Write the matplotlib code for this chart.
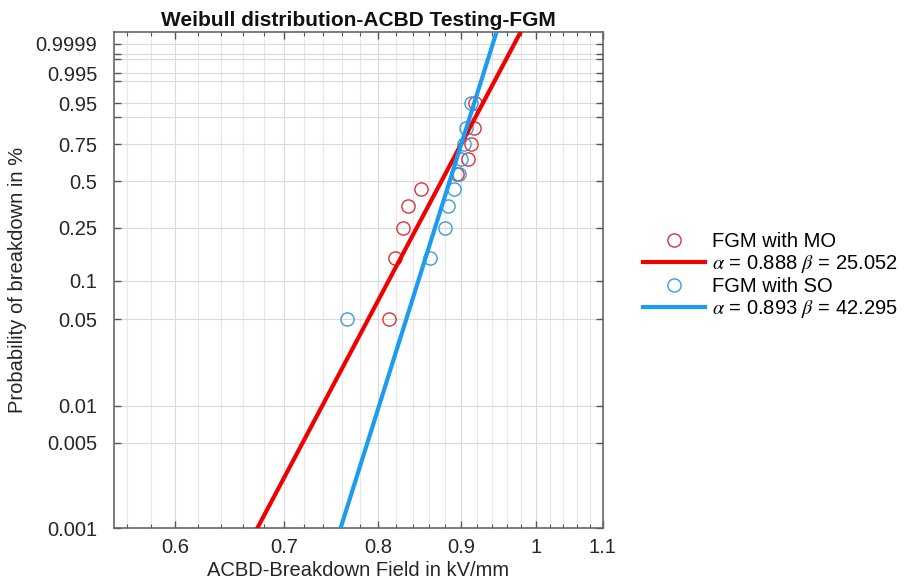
import numpy as np
import matplotlib
matplotlib.use("Agg")
import matplotlib.pyplot as plt
from matplotlib.ticker import NullFormatter
from matplotlib.lines import Line2D

plt.rcParams["font.family"] = ["Liberation Sans", "DejaVu Sans"]
plt.rcParams["mathtext.fontset"] = "stix"

# ---- data ----
prob = [0.05, 0.15, 0.25, 0.35, 0.45, 0.55, 0.65, 0.75, 0.85, 0.95]
mo_field = [0.812, 0.819, 0.829, 0.834, 0.850, 0.895, 0.908, 0.912, 0.916, 0.918]
so_field = [0.765, 0.861, 0.879, 0.883, 0.891, 0.897, 0.900, 0.903, 0.906, 0.912]

mo_alpha, mo_beta = 0.888, 25.052
so_alpha, so_beta = 0.893, 42.295

x_major = [0.6, 0.7, 0.8, 0.9, 1.0, 1.1]
x_major_labels = ["0.6", "0.7", "0.8", "0.9", "1", "1.1"]
x_minor = [0.56, 0.58, 0.62, 0.64, 0.66, 0.68, 0.72, 0.74, 0.76, 0.78,
           0.82, 0.84, 0.86, 0.88, 0.92, 0.94, 0.96, 0.98, 1.02, 1.04, 1.06, 1.08]
y_ticks = [0.001, 0.005, 0.01, 0.05, 0.1, 0.25, 0.5, 0.75, 0.9, 0.95,
           0.99, 0.995, 0.999, 0.9995, 0.9999]
y_labels = ["0.001", "0.005", "0.01", "0.05", "0.1", "0.25", "0.5", "0.75", "",
            "0.95", "", "0.995", "", "", "0.9999"]

RED_LINE, RED_MK = "#f00000", "#e0303a"
BLUE_LINE, BLUE_MK = "#1c9cf0", "#3a9ce0"


def wbl_fwd(p):
    p = np.asarray(p, dtype=float)
    with np.errstate(divide="ignore", invalid="ignore"):
        return np.log(-np.log(1.0 - p))


def wbl_inv(y):
    y = np.asarray(y, dtype=float)
    return 1.0 - np.exp(-np.exp(y))


fig = plt.figure(figsize=(9.12, 5.87), dpi=100)
ax = fig.add_axes([0.125, 0.1005, 0.536, 0.845])
ax.set_xscale("log")
ax.set_yscale("function", functions=(wbl_fwd, wbl_inv))

ylim = (0.001, 0.99999)
p_line = np.array(ylim)

# Weibull probability plot: data points + fitted lines from alpha/beta
ax.plot(mo_field, prob, "o", ms=9.5, mfc="none", mec=RED_MK, mew=1.0, zorder=3)
ax.plot(mo_alpha * (-np.log(1 - p_line)) ** (1 / mo_beta), p_line,
        color=RED_LINE, lw=3.0, zorder=4)
ax.plot(so_field, prob, "o", ms=9.5, mfc="none", mec=BLUE_MK, mew=1.0, zorder=3)
ax.plot(so_alpha * (-np.log(1 - p_line)) ** (1 / so_beta), p_line,
        color=BLUE_LINE, lw=3.0, zorder=4)

ax.set_xlim(0.55, 1.1)
ax.set_ylim(*ylim)

ax.set_xticks(x_major)
ax.set_xticklabels(x_major_labels)
ax.set_xticks(x_minor, minor=True)
ax.xaxis.set_minor_formatter(NullFormatter())
ax.set_yticks(y_ticks)
ax.set_yticklabels(y_labels)
ax.yaxis.set_minor_locator(matplotlib.ticker.NullLocator())

ax.grid(True, which="major", color="#dadada", lw=0.8)
ax.grid(True, which="minor", axis="x", color="#e8e8e8", lw=0.8)
ax.set_axisbelow(True)

ax.tick_params(which="both", direction="in", top=True, right=True,
               colors="#555555", labelcolor="#262626", labelsize=14.5)
ax.tick_params(which="major", length=5, width=1.0)
ax.tick_params(which="minor", length=3, width=0.8)
ax.tick_params(axis="x", pad=7)
ax.tick_params(axis="y", pad=12)
for s in ax.spines.values():
    s.set_color("#666666")
    s.set_linewidth(1.2)

ax.set_title("Weibull distribution-ACBD Testing-FGM", fontsize=15,
             fontweight="bold", pad=4, color="#111111")
ax.set_xlabel("ACBD-Breakdown Field in kV/mm", fontsize=14.5, color="#262626", labelpad=3)
ax.set_ylabel("Probability of breakdown in %", fontsize=14.5, color="#262626", labelpad=6)

handles = [
    Line2D([], [], ls="none", marker="o", ms=9.5, mfc="none", mec=RED_MK, mew=1.0),
    Line2D([], [], color=RED_LINE, lw=3.0),
    Line2D([], [], ls="none", marker="o", ms=9.5, mfc="none", mec=BLUE_MK, mew=1.0),
    Line2D([], [], color=BLUE_LINE, lw=3.0),
]
labels = [
    "FGM with MO",
    r"$\alpha$ = %.3f $\beta$ = %.3f" % (mo_alpha, mo_beta),
    "FGM with SO",
    r"$\alpha$ = %.3f $\beta$ = %.3f" % (so_alpha, so_beta),
]
fig.legend(handles, labels, loc="center left", bbox_to_anchor=(0.7045, 0.530),
           frameon=False, fontsize=14.5, handlelength=3.1, handletextpad=0.35,
           labelspacing=0.1, borderpad=0, borderaxespad=0)

fig.savefig("out.png", dpi=100)
